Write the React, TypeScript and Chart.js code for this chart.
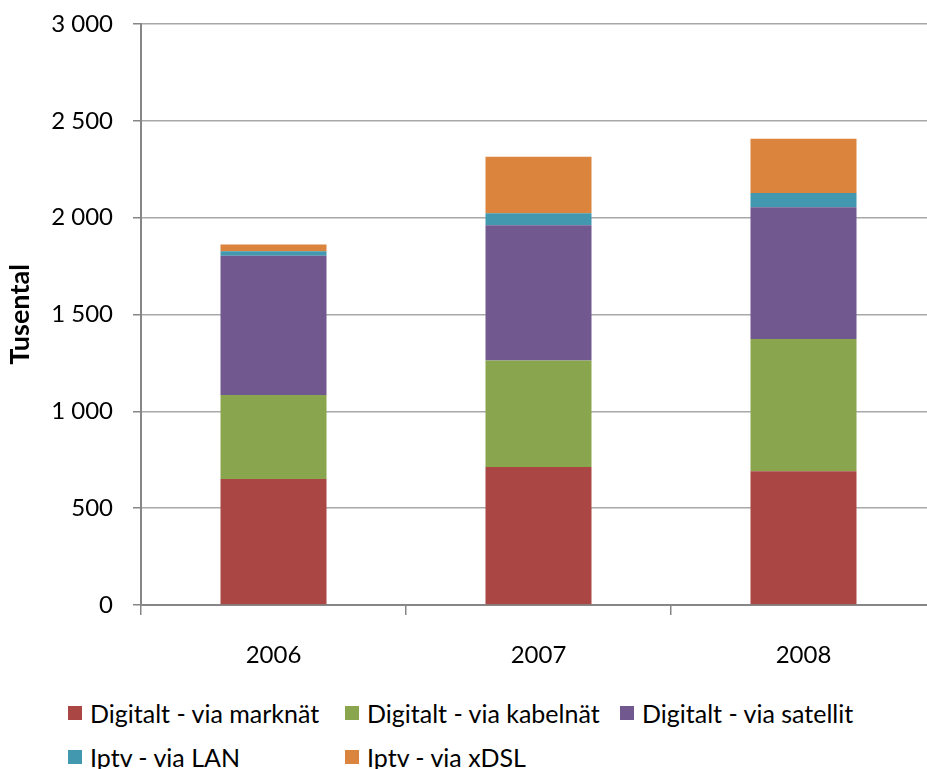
import React, { useEffect, useRef } from "react";
import { Chart, registerables } from "chart.js";

Chart.register(...registerables);

const categories = ["2006", "2007", "2008"];
const marknat = [651, 713, 691];
const kabelnat = [433, 550, 683];
const satellit = [720, 698, 680];
const lan = [23, 62, 73];
const xdsl = [34, 291, 280];

const seriesNames = [
  "Digitalt - via marknät",
  "Digitalt - via kabelnät",
  "Digitalt - via satellit",
  "Iptv - via LAN",
  "Iptv - via xDSL",
];
const seriesColors = ["#AA4643", "#89A54E", "#71588F", "#4198AF", "#DB843D"];
const seriesData = [marknat, kabelnat, satellit, lan, xdsl];

const FONT = "Lato, 'DejaVu Sans', sans-serif";

const fmt = (v: number) => String(v).replace(/\B(?=(\d{3})+(?!\d))/g, " ");

export default function App() {
  const ref = useRef<HTMLCanvasElement | null>(null);

  useEffect(() => {
    if (!ref.current) return;
    const chart = new Chart(ref.current, {
      type: "bar",
      data: {
        labels: categories,
        datasets: seriesNames.map((name, i) => ({
          label: name,
          data: seriesData[i],
          backgroundColor: seriesColors[i],
          borderWidth: 0,
          barPercentage: 0.4,
          categoryPercentage: 1,
        })),
      },
      options: {
        animation: false,
        responsive: true,
        maintainAspectRatio: false,
        layout: { padding: { top: 24, left: 0, right: 0, bottom: 0 } },
        plugins: { legend: { display: false }, tooltip: { enabled: false } },
        scales: {
          x: {
            stacked: true,
            afterFit: (s: any) => {
              s.height = 75;
              s.paddingLeft = 0;
              s.paddingRight = 0;
            },
            grid: {
              display: true,
              drawOnChartArea: false,
              drawTicks: true,
              tickLength: 10,
              color: "#868686",
              lineWidth: 1.5,
            },
            border: { display: true, color: "#868686", width: 2 },
            ticks: {
              color: "#000",
              font: { family: FONT, size: 24 },
              padding: 26,
            },
          },
          y: {
            stacked: true,
            min: 0,
            max: 3000,
            afterFit: (s: any) => {
              s.width = 141;
              s.paddingTop = 0;
              s.paddingBottom = 0;
            },
            grid: {
              color: "#a8a8a8",
              lineWidth: 1.5,
              drawTicks: true,
              tickLength: 8,
              tickColor: "#868686",
            },
            border: { display: true, color: "#868686", width: 2 },
            ticks: {
              stepSize: 500,
              color: "#000",
              font: { family: FONT, size: 24 },
              padding: 20,
              callback: (v: any) => fmt(Number(v)),
            },
            title: {
              display: true,
              text: "Tusental",
              color: "#000",
              font: { family: FONT, size: 27, weight: "bold" },
              padding: { top: 4, bottom: 0 },
            },
          },
        },
      },
    });
    return () => chart.destroy();
  }, []);

  const cols = [68, 345, 620];
  const rows = [713, 757];

  return (
    <div
      style={{
        position: "fixed",
        left: 0,
        top: 0,
        width: 927,
        height: 769,
        overflow: "hidden",
        background: "#fff",
      }}
    >
      <div style={{ position: "absolute", left: 0, top: 0, width: 936, height: 680 }}>
        <canvas ref={ref} />
      </div>
      {seriesNames.map((name, i) => {
        const col = i < 3 ? cols[i] : cols[i - 3];
        const row = i < 3 ? rows[0] : rows[1];
        return (
          <div
            key={name}
            style={{
              position: "absolute",
              left: col,
              top: row - 15,
              height: 30,
              display: "flex",
              alignItems: "center",
              whiteSpace: "nowrap",
              fontFamily: FONT,
              fontSize: 25,
              color: "#000",
            }}
          >
            <span
              style={{
                display: "inline-block",
                width: 14,
                height: 14,
                background: seriesColors[i],
                marginRight: 8,
              }}
            />
            <span>{name}</span>
          </div>
        );
      })}
    </div>
  );
}
